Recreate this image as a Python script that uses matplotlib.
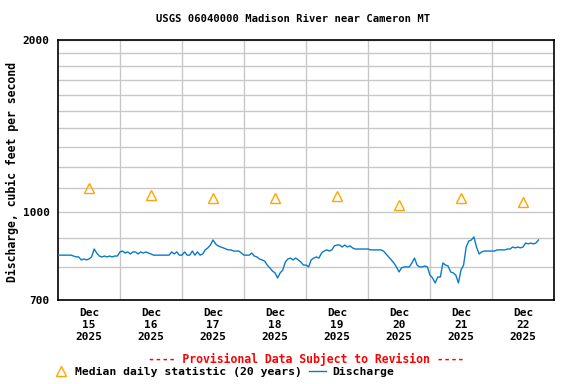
import matplotlib
matplotlib.use("Agg")
import matplotlib.pyplot as plt
from matplotlib.ticker import FixedLocator, NullFormatter, FixedFormatter
from matplotlib.lines import Line2D
import pandas as pd

title = "USGS 06040000 Madison River near Cameron MT"
ylabel = "Discharge, cubic feet per second"
provisional = "---- Provisional Data Subject to Revision ----"
median_label = "Median daily statistic (20 years)"
discharge_label = "Discharge"

start = "2025-12-15 00:00"
end = "2025-12-23 00:00"

# Hourly discharge readings (cfs), starting Dec 15 00:00
discharge = [
    # Dec 15
    839, 839, 839, 839, 839, 839, 836, 833, 833, 823, 826, 823,
    826, 833, 860, 846, 836, 833, 836, 833, 836, 833, 836, 836,
    # Dec 16
    850, 853, 846, 850, 843, 850, 850, 843, 850, 846, 850, 846,
    843, 839, 839, 839, 839, 839, 839, 839, 850, 843, 850, 839,
    # Dec 17
    839, 850, 839, 839, 853, 839, 850, 839, 843, 857, 864, 874,
    892, 878, 871, 867, 864, 860, 857, 857, 853, 853, 853, 846,
    # Dec 18
    839, 839, 839, 846, 836, 833, 826, 823, 819, 806, 797, 787,
    781, 765, 781, 790, 816, 826, 829, 823, 829, 823, 816, 806,
    # Dec 19
    806, 800, 823, 829, 833, 829, 846, 853, 857, 853, 857, 871,
    874, 874, 867, 874, 867, 871, 864, 860, 860, 860, 860, 860,
    # Dec 20
    860, 857, 857, 857, 857, 857, 853, 843, 833, 823, 813, 800,
    784, 797, 800, 800, 800, 813, 829, 806, 800, 800, 803, 800,
    # Dec 21
    774, 765, 750, 768, 768, 813, 806, 803, 784, 781, 774, 750,
    790, 806, 867, 888, 892, 903, 867, 843, 850, 853, 853, 853,
    # Dec 22
    853, 853, 857, 857, 857, 857, 860, 860, 867, 864, 867, 864,
    867, 881, 878, 881, 878, 881, 892,
]

median_days = ["2025-12-15", "2025-12-16", "2025-12-17", "2025-12-18",
               "2025-12-19", "2025-12-20", "2025-12-21", "2025-12-22"]
median_values = [1101, 1069, 1056, 1056, 1064, 1027, 1056, 1040]

ytick_values = [700, 1000, 2000]
ygrid_values = [800, 900, 1000, 1100, 1200, 1300, 1400, 1500, 1600, 1700, 1800, 1900]
xtick_labels = ["Dec\n15\n2025", "Dec\n16\n2025", "Dec\n17\n2025", "Dec\n18\n2025",
                "Dec\n19\n2025", "Dec\n20\n2025", "Dec\n21\n2025", "Dec\n22\n2025"]

times = pd.date_range(start, periods=len(discharge), freq="h")
median_times = pd.to_datetime(median_days) + pd.Timedelta(hours=12)

FONT = "DejaVu Sans Mono"
LINE_COLOR = "#0a7ac8"
MED_COLOR = "#ffa500"

fig = plt.figure(figsize=(5.76, 3.84), dpi=100)
ax = fig.add_axes([58 / 576, 84 / 384, 496 / 576, 260 / 384])

ax.set_yscale("log")
ax.set_ylim(700, 2000)
ax.set_xlim(pd.Timestamp(start), pd.Timestamp(end))

ax.plot(times, discharge, color=LINE_COLOR, lw=1.0, zorder=3)
ax.plot(median_times, median_values, linestyle="none", marker="^",
        markersize=7.5, markerfacecolor="none", markeredgecolor=MED_COLOR,
        markeredgewidth=1.0, zorder=4)

ax.yaxis.set_major_locator(FixedLocator(ytick_values))
ax.yaxis.set_major_formatter(FixedFormatter([str(v) for v in ytick_values]))
ax.yaxis.set_minor_locator(FixedLocator(ygrid_values))
ax.yaxis.set_minor_formatter(NullFormatter())

day_starts = pd.date_range(start, end, freq="D")
ax.set_xticks(median_times)
ax.set_xticklabels(xtick_labels)
ax.set_xticks(day_starts[1:-1], minor=True)

ax.grid(True, which="minor", color="#c8c8c8", lw=1.0, zorder=0)
ax.grid(True, which="major", axis="y", color="#c8c8c8", lw=1.0, zorder=0)
ax.tick_params(which="both", length=0)
ax.tick_params(axis="x", pad=6)
ax.tick_params(axis="y", pad=6)
for lab in ax.get_xticklabels() + ax.get_yticklabels():
    lab.set_fontfamily(FONT)
    lab.set_fontweight("bold")
    lab.set_fontsize(8)
for sp in ax.spines.values():
    sp.set_linewidth(1.2)
    sp.set_color("black")

fig.text(293 / 576, 1 - 19 / 384, title, ha="center", va="center",
         fontfamily=FONT, fontweight="bold", fontsize=7.6)
fig.text(12 / 576, 1 - 172 / 384, ylabel, ha="center", va="center", rotation=90,
         fontfamily=FONT, fontweight="bold", fontsize=8.3)

fig.text(306 / 576, 1 - 359 / 384, provisional, color="red", ha="center", va="center",
         fontfamily=FONT, fontweight="bold", fontsize=8.3)

handles = [
    Line2D([], [], linestyle="none", marker="^", markersize=7.5, markerfacecolor="none",
           markeredgecolor=MED_COLOR, markeredgewidth=1.0),
    Line2D([], [], color=LINE_COLOR, lw=1.0),
]
fig.legend(handles, [median_label, discharge_label], loc="center left",
           bbox_to_anchor=(47 / 576, 1 - 372 / 384), ncol=2, frameon=False,
           prop={"family": FONT, "weight": "bold", "size": 8.2},
           handlelength=1.5, handletextpad=0.5, columnspacing=0.6, borderpad=0)

fig.savefig("out.png", dpi=100)
